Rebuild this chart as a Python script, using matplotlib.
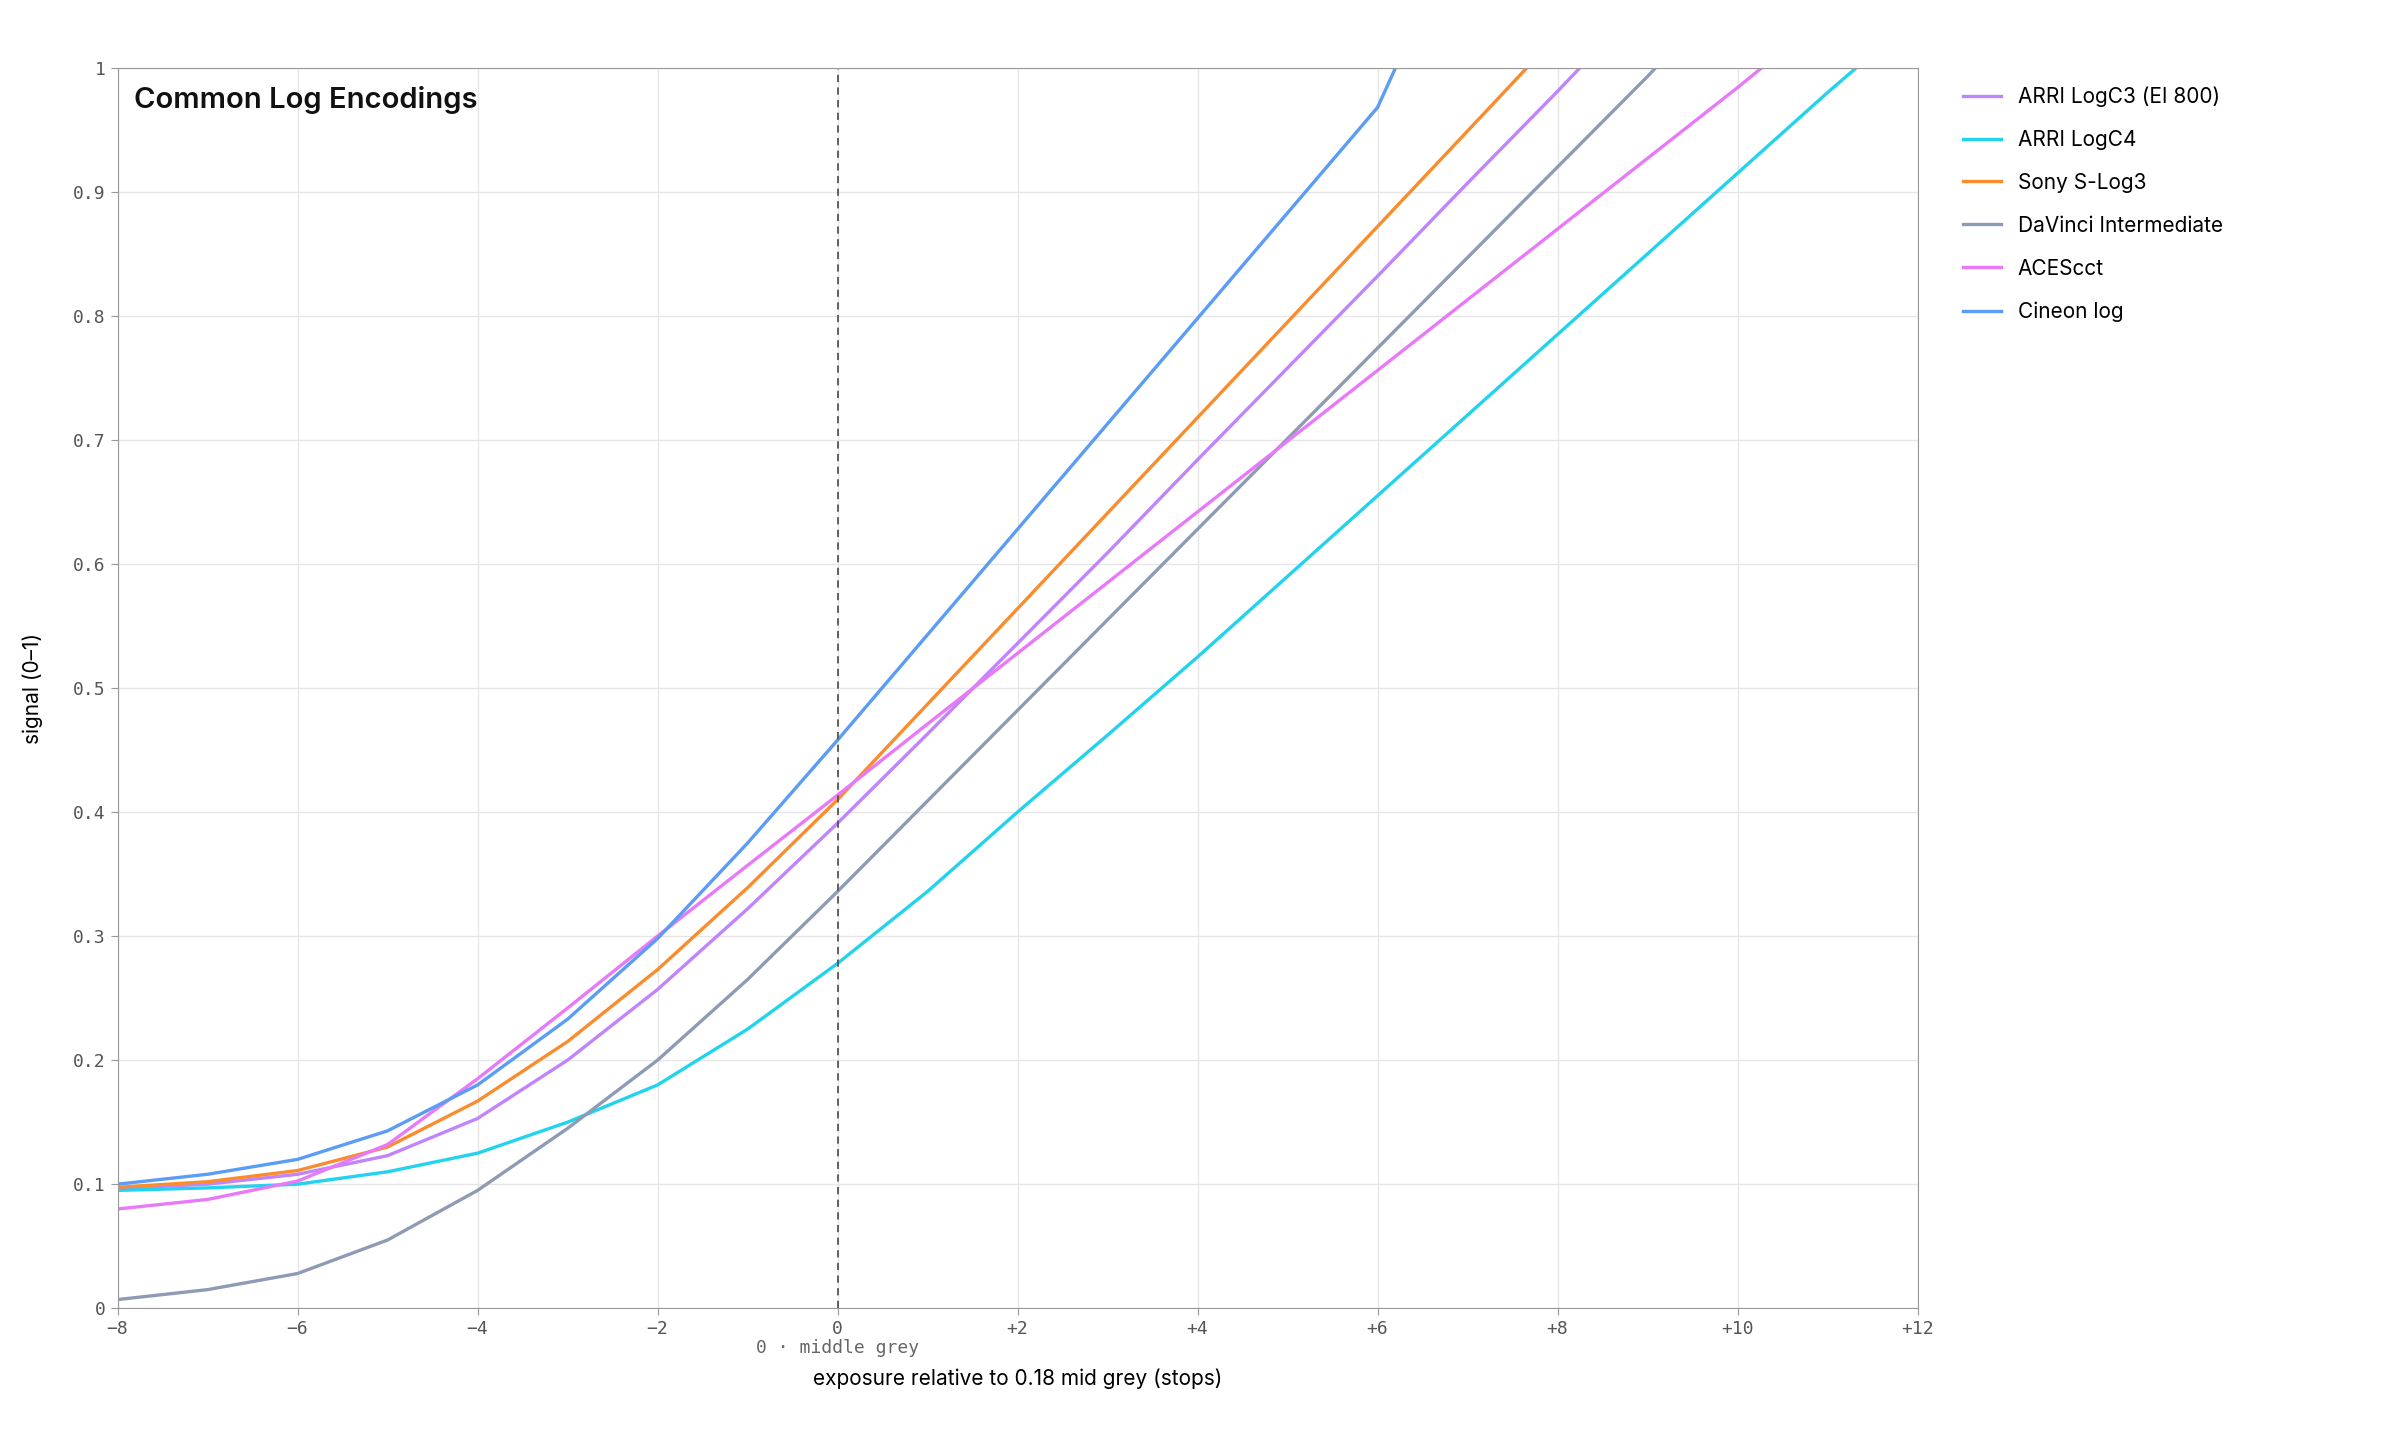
import matplotlib
matplotlib.use("Agg")
import matplotlib.pyplot as plt

# stops and values
cineon_x = [-8,-7,-6,-5,-4,-3,-2,-1,0,1,2,3,4,5,6,6.2]
cineon_y = [0.100,0.108,0.120,0.143,0.180,0.233,0.298,0.375,0.458,0.543,0.628,0.713,0.798,0.883,0.968,1.0]
slog3_x = [-8,-7,-6,-5,-4,-3,-2,-1,0,1,2,3,4,5,6,7,7.66]
slog3_y = [0.0975,0.102,0.111,0.130,0.167,0.215,0.273,0.339,0.410,0.487,0.564,0.641,0.718,0.795,0.872,0.949,1.0]
logc3_x = [-8,-7,-6,-5,-4,-3,-2,-1,0,1,2,3,4,5,6,7,8,8.25]
logc3_y = [0.0966,0.100,0.108,0.123,0.153,0.200,0.257,0.322,0.391,0.463,0.536,0.609,0.684,0.758,0.832,0.907,0.981,1.0]
logc4_x = [-8,-7,-6,-5,-4,-3,-2,-1,0,1,2,3,4,5,6,7,8,9,10,11,11.32]
logc4_y = [0.095,0.097,0.100,0.110,0.125,0.150,0.180,0.225,0.278,0.336,0.400,0.462,0.525,0.590,0.655,0.720,0.785,0.850,0.915,0.980,1.0]
dvi_x = [-8,-7,-6,-5,-4,-3,-2,-1,0,1,2,3,4,5,6,7,8,9,9.09]
dvi_y = [0.007,0.015,0.028,0.055,0.095,0.145,0.200,0.265,0.336,0.409,0.482,0.555,0.628,0.701,0.774,0.847,0.920,0.993,1.0]
acescct_x = [-8,-7,-6,-5,-4,-3,-2,-1,0,1,2,3,4,5,6,7,8,9,10,10.27]
acescct_y = [0.080,0.0877,0.1025,0.132,0.185,0.242,0.300,0.357,0.4136,0.471,0.528,0.585,0.642,0.699,0.756,0.813,0.870,0.927,0.984,1.0]

series = [
    ("ARRI LogC3 (EI 800)", logc3_x, logc3_y, "#c084fc"),
    ("ARRI LogC4", logc4_x, logc4_y, "#22d3ee"),
    ("Sony S-Log3", slog3_x, slog3_y, "#fb8c2e"),
    ("DaVinci Intermediate", dvi_x, dvi_y, "#8e9bb5"),
    ("ACEScct", acescct_x, acescct_y, "#e879f9"),
    ("Cineon log", cineon_x, cineon_y, "#5b9cf6"),
]
xticks = list(range(-8, 13, 2))
xticklabels = ["−8","−6","−4","−2","0","+2","+4","+6","+8","+10","+12"]
yticks = [0,0.1,0.2,0.3,0.4,0.5,0.6,0.7,0.8,0.9,1]
yticklabels = ["0","0.1","0.2","0.3","0.4","0.5","0.6","0.7","0.8","0.9","1"]

plt.rcParams['font.family'] = ['Inter', 'DejaVu Sans']
fig = plt.figure(figsize=(24, 14.4), dpi=100)
ax = fig.add_axes([0.049, 0.0915, 0.750, 0.8615])
for name, x, y, c in series:
    ax.plot(x, y, color=c, lw=2.4, label=name, solid_joinstyle="round")
ax.axvline(0, color="#555555", lw=1.3, ls=(0, (4, 3)))
ax.set_xlim(-8, 12); ax.set_ylim(0, 1)
ax.set_xticks(xticks); ax.set_xticklabels(xticklabels, family="DejaVu Sans Mono", fontsize=13, color="#555555")
ax.set_yticks(yticks); ax.set_yticklabels(yticklabels, family="DejaVu Sans Mono", fontsize=13, color="#555555")
ax.grid(True, color="#e6e6e6", lw=1)
ax.set_axisbelow(True)
for s in ax.spines.values():
    s.set_color("#999999")
ax.tick_params(length=5, color="#999999")
ax.text(0.009, 0.985, "Common Log Encodings", transform=ax.transAxes, fontsize=21, fontweight="semibold", va="top", color="#111111")
ax.text(0, -0.025, "0 · middle grey", transform=ax.get_xaxis_transform(), ha="center", va="top",
        family="DejaVu Sans Mono", fontsize=13, color="#666666")
ax.set_xlabel("exposure relative to 0.18 mid grey (stops)", fontsize=15, labelpad=22)
ax.set_ylabel("signal (0–1)", fontsize=15, labelpad=22)
ax.legend(loc="upper left", bbox_to_anchor=(1.015, 1.0), frameon=False, fontsize=15,
          handlelength=1.8, labelspacing=1.1)
fig.savefig("out.png", dpi=100, facecolor="white")
